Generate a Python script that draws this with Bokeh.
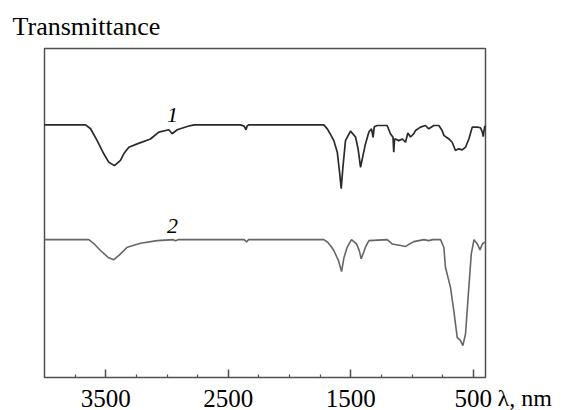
from bokeh.plotting import figure
from bokeh.models import Range1d, FixedTicker, Label
from bokeh.embed import file_html
from bokeh.resources import INLINE

# wavenumber positions (x) and transmittance (arbitrary units, y)
c1_w = [4000, 3800, 3665, 3624, 3570, 3516, 3475, 3429, 3380, 3353, 3312, 3243, 3135, 3067,
        2985, 2958, 2917, 2835, 2781, 2400, 2370, 2355, 2345, 2330, 1720, 1690, 1660, 1638,
        1610, 1590, 1578, 1565, 1543, 1502, 1461, 1440, 1420, 1400, 1380, 1352, 1330, 1318,
        1308, 1284, 1203, 1176, 1155, 1149, 1142, 1135, 1108, 1080, 1053, 1034, 1012, 985,
        971, 931, 890, 863, 822, 781, 754, 740, 699, 672, 645, 618, 590, 563, 536, 508,
        467, 441, 425, 419, 412, 406, 400]
c1_t = [76.8, 76.8, 76.8, 75.6, 72.0, 68.0, 65.4, 64.4, 66.0, 68.0, 70.0, 71.0, 72.5, 74.6,
        75.3, 74.1, 75.3, 76.3, 76.8, 76.8, 76.4, 75.3, 76.5, 76.8, 76.8, 75.5, 73.5, 72.0,
        68.5, 62.0, 57.4, 63.5, 72.0, 74.9, 73.1, 69.5, 63.9, 67.5, 71.0, 74.6, 75.6, 73.0,
        76.2, 76.6, 76.6, 74.1, 73.0, 68.5, 72.5, 72.5, 72.0, 72.5, 71.5, 74.3, 73.1, 74.1,
        75.1, 76.1, 76.6, 75.6, 76.6, 76.6, 75.1, 73.6, 72.5, 71.5, 69.0, 69.5, 69.2, 70.0,
        72.5, 76.1, 76.1, 75.9, 74.5, 73.2, 75.0, 76.3, 76.3]

c2_w = [4000, 3638, 3600, 3543, 3480, 3434, 3390, 3325, 3216, 3080, 2950, 2930, 2910, 2370,
        2350, 2335, 1720, 1690, 1660, 1638, 1600, 1575, 1555, 1529, 1494, 1453, 1430, 1415,
        1395, 1380, 1352, 1203, 1162, 1094, 1053, 1020, 985, 903, 863, 830, 767, 740, 727,
        686, 659, 631, 604, 585, 563, 536, 516, 494, 467, 445, 425, 408, 400]
c2_t = [41.9, 41.9, 40.8, 38.6, 36.5, 35.8, 37.2, 39.6, 40.8, 41.6, 41.9, 41.6, 41.9, 41.9,
        41.2, 41.9, 41.9, 41.2, 39.8, 38.6, 35.5, 32.2, 36.5, 39.6, 41.9, 40.6, 38.5, 36.1,
        38.0, 39.6, 41.6, 41.9, 40.6, 40.1, 39.8, 40.6, 41.3, 41.9, 41.6, 41.9, 41.9, 39.6,
        33.5, 27.4, 20.4, 12.2, 11.2, 9.7, 13.3, 27.4, 37.6, 41.9, 40.6, 38.8, 40.6, 41.1, 41.1]

major_ticks = [3500, 2500, 1500, 500]
minor_ticks = [3750, 3250, 3000, 2750, 2250, 2000, 1750, 1250, 1000, 750]
curve_labels = ["1", "2"]
x_left, x_right = 4000, 400      # axis limits (reversed wavenumber axis)
y_bottom, y_top = 0, 100

FONT = "Liberation Serif"
W, H = 563, 410
# pixel margins of the plotting box inside the canvas
ml, mr, mt, mb = 44, 78, 48, 33
kx = (W - ml - mr) / (x_left - x_right)
ky = (H - mt - mb) / (y_top - y_bottom)

p = figure(width=W, height=H, output_backend="svg", toolbar_location=None,
           x_range=Range1d(x_left + ml / kx, x_right - mr / kx),
           y_range=Range1d(y_bottom - mb / ky, y_top + mt / ky),
           min_border=0)
p.grid.visible = False
p.yaxis.visible = False
p.outline_line_color = None
p.background_fill_color = "white"
p.border_fill_color = "white"

ax = p.xaxis[0]
ax.fixed_location = y_bottom
ax.ticker = FixedTicker(ticks=major_ticks, minor_ticks=minor_ticks)
ax.axis_line_color = None
ax.major_tick_in = 8
ax.major_tick_out = 0
ax.minor_tick_in = 3
ax.minor_tick_out = 0
ax.major_tick_line_color = "#505050"
ax.major_tick_line_width = 1.5
ax.minor_tick_line_color = "#505050"
ax.minor_tick_line_width = 1.2
ax.major_label_text_font = FONT
ax.major_label_text_font_size = "25px"
ax.major_label_text_color = "black"
ax.major_label_standoff = 12

# plot box
p.quad(left=[x_left], right=[x_right], bottom=[y_bottom], top=[y_top],
       fill_color=None, line_color="#505050", line_width=1.5)

p.line(c1_w, c1_t, line_color="#2a2a2a", line_width=1.7)
p.line(c2_w, c2_t, line_color="#666666", line_width=1.6)

p.add_layout(Label(x=2955, y=77.5 + 8 / ky, text=curve_labels[0], text_font=FONT,
                   text_font_style="italic", text_font_size="22px", text_color="black",
                   text_align="center", text_baseline="alphabetic"))
p.add_layout(Label(x=2955, y=43.2 + 9 / ky, text=curve_labels[1], text_font=FONT,
                   text_font_style="italic", text_font_size="22px", text_color="black",
                   text_align="center", text_baseline="alphabetic"))
p.add_layout(Label(x=x_left + (ml - 12) / kx, y=y_top + (mt - 26) / ky, text="Transmittance",
                   text_font=FONT, text_font_size="26px", text_color="black",
                   text_align="left", text_baseline="alphabetic"))
p.add_layout(Label(x=x_right - 12 / kx, y=y_bottom - 20 / ky, text="λ, nm", text_font=FONT,
                   text_font_size="24px", text_color="black", text_align="left",
                   text_baseline="alphabetic"))

open("out.html", "w").write(file_html(p, INLINE))
